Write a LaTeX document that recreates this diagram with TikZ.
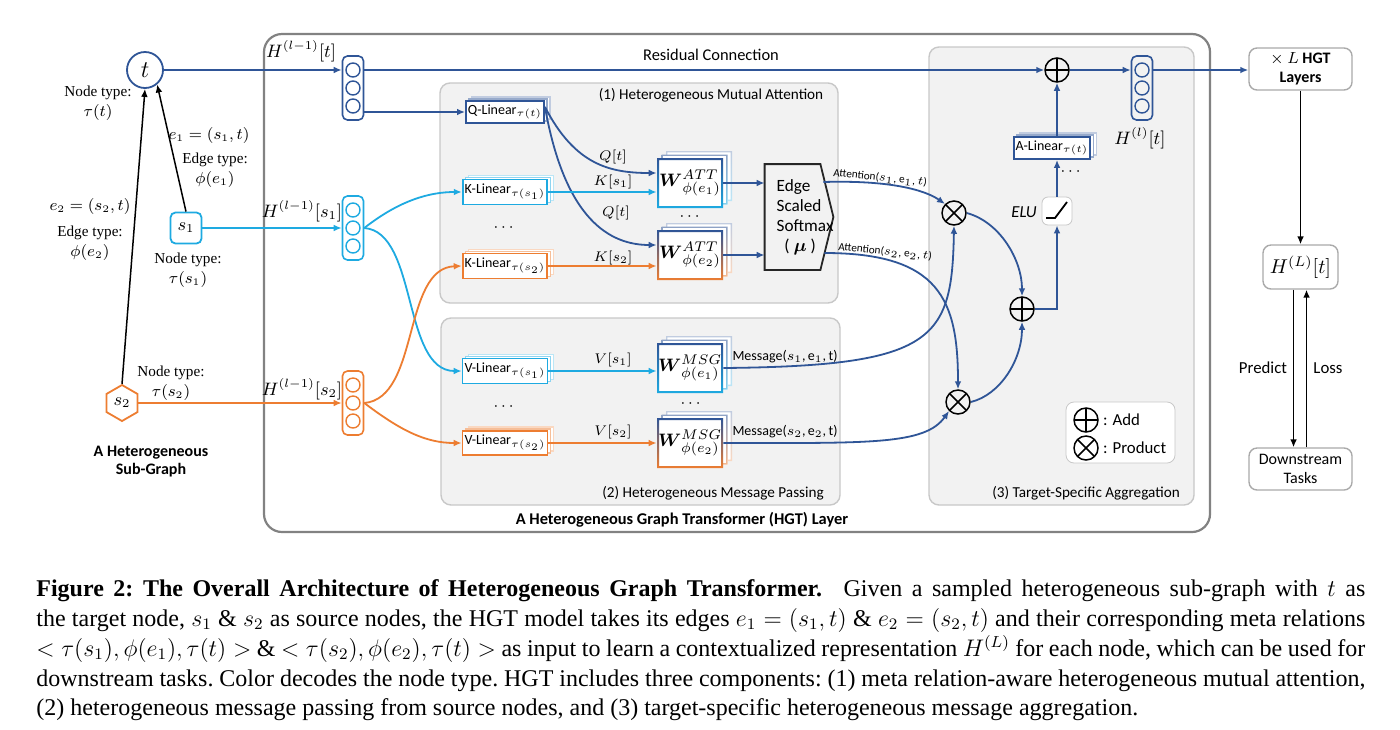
\documentclass[tikz,border=0pt]{standalone}
\usepackage{amsmath}
\usepackage{fontspec}
\setmainfont{Liberation Serif}
\setsansfont{Carlito}
\usetikzlibrary{arrows.meta,shapes.geometric,shadows,calc}
\definecolor{dblue}{RGB}{47,85,151}
\definecolor{cyanc}{RGB}{30,170,225}
\definecolor{orangec}{RGB}{237,125,49}
\definecolor{boxgray}{RGB}{242,242,242}
\definecolor{boxline}{RGB}{200,200,200}
\definecolor{outerline}{RGB}{130,130,130}
\newcommand{\fsz}[1]{\fontsize{#1}{#1}\selectfont}
\newcommand{\hgtstack}[4]{%
  \node[stackbox,draw=#2] (#1) at (#3,#4) {};
  \node[dotc,draw=#2] (#1a) at ([yshift=9pt]#1.center) {};
  \node[dotc,draw=#2] (#1b) at (#1.center) {};
  \node[dotc,draw=#2] (#1c) at ([yshift=-9pt]#1.center) {};}
\newcommand{\hgtwblock}[6]{%
  \foreach \k/\op in {2/30,1/55}{%
    \begin{scope}[shift={(\k*4.5,-\k*3.5)}]
      \fill[white] (#2-33,#3-25) rectangle (#2+33,#3+25);
      \shade[top color=#4!\op,bottom color=#5!\op,even odd rule]
        (#2-33,#3-25) rectangle (#2+33,#3+25)
        (#2-31.6,#3-23.6) rectangle (#2+31.6,#3+23.6);
    \end{scope}}
  \node[fill=white,minimum width=33pt,minimum height=25pt,inner sep=0pt,font=\fsz{9.5}] (#1) at (#2,#3) {#6};
  \shade[top color=#4,bottom color=#5,even odd rule]
    (#2-33,#3-25) rectangle (#2+33,#3+25)
    (#2-31,#3-23) rectangle (#2+31,#3+23);}
\begin{document}
\begin{tikzpicture}[x=0.5pt,y=-0.5pt,font=\sffamily,
  arr/.style={-{Latex[length=4pt,width=3.4pt]}},
  bline/.style={draw=dblue,line width=0.9pt},
  cline/.style={draw=cyanc,line width=0.9pt},
  oline/.style={draw=orangec,line width=0.9pt},
  kline/.style={draw=black,line width=0.75pt},
  panel/.style={draw=boxline,fill=boxgray,line width=0.7pt,rounded corners=5pt},
  stackbox/.style={draw,line width=0.8pt,rounded corners=2.5pt,minimum width=10.5pt,minimum height=32pt,inner sep=0pt},
  dotc/.style={circle,draw,line width=0.7pt,minimum size=7pt,inner sep=0pt},
  linbox/.style={draw=#1,fill=white,line width=0.9pt,inner sep=1pt,minimum width=35.5pt,minimum height=11pt,font=\sffamily\fsz{7},
    copy shadow={shadow xshift=3pt,shadow yshift=2pt,draw=#1!30,fill=white,line width=0.6pt},
    copy shadow={shadow xshift=1.5pt,shadow yshift=1pt,draw=#1!50,fill=white,line width=0.6pt}},
  opl/.style={circle,draw,line width=0.75pt,minimum size=12pt,inner sep=0pt,
    path picture={\draw[line width=0.75pt] (path picture bounding box.north) -- (path picture bounding box.south) (path picture bounding box.west) -- (path picture bounding box.east);}},
  otm/.style={circle,draw,line width=0.75pt,minimum size=12pt,inner sep=0pt,
    path picture={\draw[line width=0.75pt] (path picture bounding box.north west) -- (path picture bounding box.south east) (path picture bounding box.north east) -- (path picture bounding box.south west);}},
  rbox/.style={draw=boxline!85!black,fill=white,line width=0.7pt,rounded corners=4pt,inner sep=1pt,align=center},
  lbl/.style={font=\rmfamily\fontsize{7.6}{10}\selectfont,align=center},
  mlbl/.style={font=\fsz{9}},
  qlbl/.style={font=\fsz{7.2}},
  ptitle/.style={font=\sffamily\fsz{7.6}},
  msglbl/.style={font=\sffamily\fsz{7}},
  attlbl/.style={font=\sffamily\fsz{5.6},rotate=-6},
  caplin/.style={anchor=base west,inner sep=0pt,font=\rmfamily\fsz{12}\frenchspacing},
]
\useasboundingbox (0,0) rectangle (1400,729);
\fill[white] (0,0) rectangle (1400,729);

% ---------- frames ----------
\draw[draw=outerline,line width=1.1pt,rounded corners=9pt] (264,34) rectangle (1210,532);
\draw[panel] (440,83) rectangle (838,303);
\draw[panel] (441,318) rectangle (840,505);
\draw[panel] (929,47) rectangle (1194,505);
\node[ptitle] at (711,95) {(1) Heterogeneous Mutual Attention};
\node[ptitle] at (713,493) {(2) Heterogeneous Message Passing};
\node[ptitle] at (1086,493) {(3) Target-Specific Aggregation};
\node[font=\sffamily\bfseries\fsz{8.2}] at (682,520) {A Heterogeneous Graph Transformer (HGT) Layer};
\node[font=\sffamily\fsz{8.2}] at (711,55) {Residual Connection};

% ---------- sub-graph ----------
\node[circle,draw=dblue,line width=0.9pt,minimum size=18pt,inner sep=0pt,font=\fsz{12}] (t) at (145,70) {$t$};
\node[draw=cyanc,line width=0.9pt,rounded corners=2.5pt,minimum size=15.5pt,inner sep=0pt,font=\fsz{9}] (s1) at (186,228) {$s_1$};
\node[regular polygon,regular polygon sides=6,shape border rotate=30,draw=orangec,line width=0.9pt,minimum size=18pt,inner sep=0pt,font=\fsz{9}] (s2) at (122,403) {$s_2$};
\draw[kline,arr] (s1.north) -- (t.-50);
\draw[kline,arr] (s2.north) -- (t.south);
\node[lbl] at (98,103) {Node type:\\$\tau(t)$};
\node[lbl] at (209,135) {$e_1=(s_1,t)$};
\node[lbl] at (215,170) {Edge type:\\$\phi(e_1)$};
\node[lbl] at (90,206) {$e_2=(s_2,t)$};
\node[lbl] at (90,243) {Edge type:\\$\phi(e_2)$};
\node[lbl] at (188,270) {Node type:\\$\tau(s_1)$};
\node[lbl] at (171,383) {Node type:\\$\tau(s_2)$};
\node[font=\sffamily\bfseries\fontsize{8}{9}\selectfont,align=center] at (151,462) {A Heterogeneous\\Sub-Graph};

% ---------- input stacks ----------
\hgtstack{ht}{dblue}{353}{88}
\hgtstack{hsa}{cyanc}{353}{228}
\hgtstack{hsb}{orangec}{353}{403}
\node[mlbl] at (301,51) {$H^{(l-1)}[t]$};
\node[mlbl] at (302,211) {$H^{(l-1)}[s_1]$};
\node[mlbl] at (302,389) {$H^{(l-1)}[s_2]$};
\draw[bline,arr] (t.east) -- (t.east -| ht.west);
\draw[cline,arr] (s1.east) -- (s1.east -| hsa.west);
\draw[oline,arr] (s2.east) -- (s2.east -| hsb.west);

% ---------- linear layers ----------
\node[linbox=dblue] (q) at (505,112) {Q-Linear$_{\tau(t)}$};
\node[linbox=cyanc,minimum height=12.5pt] (k1) at (505,192) {K-Linear$_{\tau(s_1)}$};
\node[linbox=orangec,minimum height=12.5pt] (k2) at (505,266) {K-Linear$_{\tau(s_2)}$};
\node[linbox=cyanc,minimum height=12.5pt] (v1) at (505,371) {V-Linear$_{\tau(s_1)}$};
\node[linbox=orangec,minimum height=12pt] (v2) at (505,443) {V-Linear$_{\tau(s_2)}$};
\node[font=\fsz{8}] at (505,228) {$\cdots$};
\node[font=\fsz{8}] at (505,407) {$\cdots$};
\draw[bline,arr] (ht.east |- q) -- (q.west);
\draw[cline,arr] (hsa.east) .. controls (400,200) and (430,192) .. (k1.west);
\draw[cline,arr] (hsa.east) .. controls (418,232) and (402,371) .. (v1.west);
\draw[oline,arr] (hsb.east) .. controls (420,398) and (402,268) .. (k2.west);
\draw[oline,arr] (hsb.east) .. controls (400,430) and (425,443) .. (v2.west);

% ---------- W blocks ----------
\hgtwblock{wa1}{690}{183}{dblue}{cyanc}{$\boldsymbol{W}^{ATT}_{\phi(e_1)}$}
\hgtwblock{wa2}{690}{255}{dblue}{orangec}{$\boldsymbol{W}^{ATT}_{\phi(e_2)}$}
\hgtwblock{wm1}{690}{368}{dblue}{cyanc}{$\boldsymbol{W}^{MSG}_{\phi(e_1)}$}
\hgtwblock{wm2}{690}{443}{dblue}{orangec}{$\boldsymbol{W}^{MSG}_{\phi(e_2)}$}
\node[font=\fsz{8}] at (691,217) {$\cdots$};
\node[font=\fsz{8}] at (692,404) {$\cdots$};

\draw[bline,arr] ([yshift=2.5pt]q.east) .. controls (575,165) and (610,173) .. ([yshift=5pt]wa1.west);
\draw[bline,arr] ([yshift=2.5pt]q.east) .. controls (565,220) and (610,245) .. ([yshift=5pt]wa2.west);
\draw[cline,arr] (k1.east) -- (k1.east -| wa1.west);
\draw[oline,arr] (k2.east) -- (k2.east -| wa2.west);
\draw[cline,arr] (v1.east) -- (v1.east -| wm1.west);
\draw[oline,arr] (v2.east) -- (v2.east -| wm2.west);
\node[qlbl] at (613,157) {$Q[t]$};
\node[qlbl] at (613,182) {$K[s_1]$};
\node[qlbl] at (616,213) {$Q[t]$};
\node[qlbl] at (613,258) {$K[s_2]$};
\node[qlbl] at (613,360) {$V[s_1]$};
\node[qlbl] at (613,432) {$V[s_2]$};

% ---------- softmax ----------
\node[minimum width=34pt,minimum height=52.5pt,inner sep=0pt] (sm) at (799,217) {};
\draw[line width=0.9pt,draw=black!85] (sm.north west) -- ([xshift=-6.5pt]sm.north east) -- (sm.east) -- ([xshift=-6.5pt]sm.south east) -- (sm.south west) -- cycle;
\node[align=left,anchor=west,font=\sffamily\fontsize{8.6}{10}\selectfont] at ([xshift=2.5pt]sm.west) {Edge\\Scaled\\Softmax\\\hspace*{0.45em}( $\boldsymbol{\mu}$ )};
\draw[bline,arr] (wa1.east) -- (wa1.east -| sm.west);
\draw[bline,arr] (wa2.east) -- (wa2.east -| sm.west);

% ---------- aggregation ----------
\node[otm] (ox1) at (954,213) {};
\node[otm] (ox2) at (958,402) {};
\node[opl] (pm) at (1022,309) {};
\node[opl] (pt) at (1057,70) {};
\node[draw=boxline,fill=white,rounded corners=3pt,minimum width=15pt,minimum height=14pt,inner sep=0pt] (elu) at (1057,211) {};
\draw[line width=0.9pt] ([shift={(-5.5pt,-3.5pt)}]elu.center) -- ([shift={(-1pt,-3.5pt)}]elu.center) -- ([shift={(5pt,4.5pt)}]elu.center);
\node[font=\sffamily\itshape\fsz{8.4}] at (1024,212) {ELU};
\node[linbox=dblue] (al) at (1052,148) {A-Linear$_{\tau(t)}$};
\node[font=\fsz{8}] at (1072,172) {$\cdots$};
\hgtstack{hl}{dblue}{1142}{88}
\node[mlbl] at (1140,138) {$H^{(l)}[t]$};

\draw[bline,arr] ([shift={(-5pt,17.5pt)}]sm.east) .. controls (890,180) and (925,190) .. (ox1.north west);
\node[attlbl] at (880,178) {Attention($s_1$, e$_1$, $t$)};
\draw[bline,arr] ([shift={(-4.5pt,-18pt)}]sm.east) .. controls (940,253) and (958,300) .. (ox2.north);
\node[attlbl] at (885,252) {Attention($s_2$, e$_2$, $t$)};
\draw[bline,arr] (wm1.east) .. controls (935,366) and (952,340) .. (ox1.south);
\node[msglbl] at (785,357) {Message($s_1$,\,e$_1$,\,t)};
\draw[bline,arr] (wm2.east) .. controls (870,443) and (925,445) .. (ox2.south west);
\node[msglbl] at (785,432) {Message($s_2$,\,e$_2$,\,t)};
\draw[bline,arr] (ox1.east) .. controls (1000,222) and (1022,260) .. (pm.north);
\draw[bline,arr] (ox2.east) .. controls (1000,395) and (1022,360) .. (pm.south);
\draw[bline,arr] (pm.east) -| (elu.south);
\draw[bline,arr] (elu.north) -- (elu.north |- al.south);
\draw[bline,arr] (pt |- al.north) -- (pt.south);
\draw[bline,arr] (hta -| ht.east) -- (pt.west);
\draw[bline,arr] (pt.east) -- (pt -| hl.west);

% legend
\node[draw=boxline,fill=white,rounded corners=4pt,minimum width=54.5pt,minimum height=30.5pt,inner sep=0pt] (leg) at (1120.5,432.5) {};
\node[opl] (lga) at (1086,420) {};
\node[otm] (lgp) at (1086,448) {};
\node[anchor=west,font=\sffamily\fsz{8.4}] at (1096,420) {: Add};
\node[anchor=west,font=\sffamily\fsz{8.4}] at (1096,448) {: Product};

% ---------- right column ----------
\node[rbox,minimum width=51.5pt,minimum height=21pt,font=\sffamily\fontsize{8}{9.5}\selectfont] (hgt) at (1300.5,69) {$\times$ $L$ \textbf{HGT}\\\textbf{Layers}};
\node[rbox,minimum width=37.5pt,minimum height=22pt,font=\fsz{10}] (hL) at (1300.5,267) {$H^{(L)}[t]$};
\node[rbox,minimum width=51.5pt,minimum height=21pt,font=\sffamily\fontsize{8}{9.5}\selectfont] (ds) at (1300.5,469) {Downstream\\Tasks};
\draw[bline,arr] (hla -| hl.east) -- (hla -| hgt.west);
\draw[kline,arr] (hgt.south) -- (hL.north);
\draw[kline,arr] ([xshift=-3.5pt]hL.south) -- ([xshift=-3.5pt]hL.south |- ds.north);
\draw[kline,arr] ([xshift=3pt]ds.north) -- ([xshift=3pt]ds.north |- hL.south);
\node[font=\sffamily\fsz{8.4}] at (1263,368) {Predict};
\node[font=\sffamily\fsz{8.4}] at (1328,368) {Loss};

% ---------- caption ----------
\node[caplin] (c1) at (36,596) {\makebox[664.5pt][s]{\textbf{Figure 2: The Overall Architecture of Heterogeneous Graph Transformer.}\hspace{0.5em} Given a sampled heterogeneous sub-graph with $t$ as}};
\node[caplin] (c2) at (36,626) {\makebox[664.5pt][s]{the target node, $s_1$ \& $s_2$ as source nodes, the HGT model takes its edges $e_1=(s_1,t)$ \& $e_2=(s_2,t)$ and their corresponding meta relations}};
\node[caplin] (c3) at (36,656) {\makebox[664.5pt][s]{$<\tau(s_1),\phi(e_1),\tau(t)>$ \& $<\tau(s_2),\phi(e_2),\tau(t)>$ as input to learn a contextualized representation $H^{(L)}$ for each node, which can be used for}};
\node[caplin] (c4) at (36,686) {\makebox[664.5pt][s]{downstream tasks. Color decodes the node type. HGT includes three components: (1) meta relation-aware heterogeneous mutual attention,}};
\node[caplin] (c5) at (36,715) {(2) heterogeneous message passing from source nodes, and (3) target-specific heterogeneous message aggregation.};
\end{tikzpicture}
\end{document}
